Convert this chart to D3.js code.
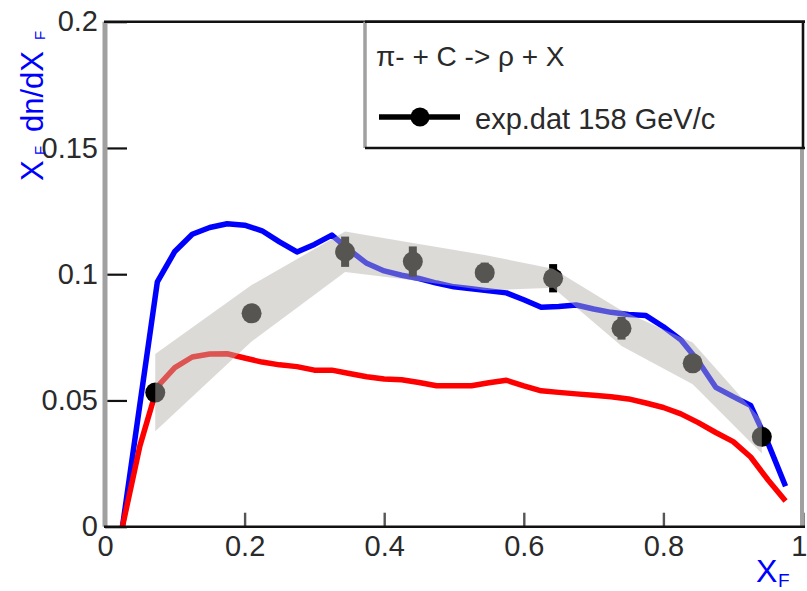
<!DOCTYPE html>
<html>
<head>
<meta charset="utf-8">
<script src="https://cdn.jsdelivr.net/npm/d3@7"></script>
<style>
  html, body { margin: 0; padding: 0; background: #fff; }
  svg { display: block; font-family: "Liberation Sans", Arial, Helvetica, sans-serif; }
</style>
</head>
<body>
<svg id="chart" width="807" height="591"></svg>
<script>
// Model curves, sampled on a common x_F grid
const xBins = [0.025, 0.05, 0.075, 0.1, 0.125, 0.15, 0.175, 0.2, 0.225, 0.25,
               0.275, 0.3, 0.325, 0.35, 0.375, 0.4, 0.425, 0.45, 0.475, 0.5,
               0.525, 0.55, 0.575, 0.6, 0.625, 0.65, 0.675, 0.7, 0.725, 0.75,
               0.775, 0.8, 0.825, 0.85, 0.875, 0.9, 0.925, 0.95, 0.975];
const blueModel = [0, 0.0485, 0.097, 0.109, 0.1158, 0.1185, 0.1200, 0.1194, 0.1172, 0.1128,
                   0.1088, 0.1118, 0.1155, 0.1096, 0.1043, 0.1013, 0.0996, 0.0983, 0.0965, 0.0950,
                   0.0942, 0.0934, 0.0926, 0.0899, 0.0869, 0.0872, 0.0878, 0.0862, 0.0849, 0.0840,
                   0.0836, 0.0792, 0.0740, 0.0655, 0.0552, 0.0515, 0.0480, 0.0330, 0.0160];
const redModel = [0, 0.032, 0.0555, 0.063, 0.0672, 0.0684, 0.0685, 0.0668, 0.0652, 0.0641,
                  0.0634, 0.0620, 0.0620, 0.0607, 0.0594, 0.0585, 0.0582, 0.0571, 0.0558, 0.0558,
                  0.0558, 0.0570, 0.0580, 0.0558, 0.0538, 0.0532, 0.0526, 0.0521, 0.0515, 0.0506,
                  0.0490, 0.0472, 0.0447, 0.0412, 0.0373, 0.0337, 0.0276, 0.0185, 0.0102];

// Measured points (exp.dat, 158 GeV/c)
const expX    = [0.072, 0.21, 0.344, 0.441, 0.544, 0.642, 0.74, 0.842, 0.941];
const expY    = [0.0531, 0.0845, 0.1089, 0.1050, 0.1006, 0.0984, 0.0786, 0.0647, 0.0356];
const expStat = [0.003, 0.003, 0.006, 0.006, 0.004, 0.0056, 0.0045, 0.003, 0.003];
const expSys  = [0.0153, 0.0112, 0.008, 0.0074, 0.007, 0.0038, 0.007, 0.0083, 0.0066];

// Axis ticks
const xTicks = [0, 0.2, 0.4, 0.6, 0.8, 1];
const xTickLabels = ["0", "0.2", "0.4", "0.6", "0.8", "1"];
const yTicks = [0, 0.05, 0.1, 0.15, 0.2];
const yTickLabels = ["0", "0.05", "0.1", "0.15", "0.2"];

const legendTitle = "\u03C0- + C -> \u03C1 + X";
const legendEntry = "exp.dat 158 GeV/c";

const svg = d3.select("#chart");
const padL = 105, padR = 803, padT = 21.7, padB = 526.7;

const x = d3.scaleLinear().domain([0, 1]).range([padL, padR]);
const y = d3.scaleLinear().domain([0, 0.2]).range([padB, padT]);

const tickFont = 29;

// Axes
const yAxis = d3.axisLeft(y).tickValues(yTicks).tickSize(-22).tickPadding(7)
  .tickFormat((d, i) => yTickLabels[i]);
const gy = svg.append("g").attr("transform", `translate(${padL},0)`).call(yAxis);
gy.select(".domain").remove();
gy.selectAll(".tick line").attr("stroke", "#111").attr("stroke-width", 2.2);
gy.selectAll(".tick text").attr("font-size", tickFont).attr("fill", "#2a2a2a")
  .attr("font-family", "'Liberation Sans', Arial, sans-serif");

const xAxis = d3.axisBottom(x).tickValues(xTicks).tickSize(-14).tickPadding(9)
  .tickFormat((d, i) => xTickLabels[i]);
const gx = svg.append("g").attr("transform", `translate(0,${padB})`).call(xAxis);
gx.select(".domain").remove();
gx.selectAll(".tick line").attr("stroke", "#555").attr("stroke-width", 2.4);
gx.selectAll(".tick text").attr("font-size", tickFont).attr("fill", "#2a2a2a")
  .attr("font-family", "'Liberation Sans', Arial, sans-serif");
// the last label sits against the right edge of the canvas
gx.selectAll(".tick text").filter(d => d === 1)
  .attr("text-anchor", "end").attr("x", 4);

// Model curves
const line = d3.line().x(d => x(d[0])).y(d => y(d[1]));
svg.append("path")
  .attr("d", line(xBins.map((v, i) => [v, blueModel[i]])))
  .attr("fill", "none").attr("stroke", "#0000ff").attr("stroke-width", 5.5)
  .attr("stroke-linejoin", "round");
svg.append("path")
  .attr("d", line(xBins.map((v, i) => [v, redModel[i]])))
  .attr("fill", "none").attr("stroke", "#ff0000").attr("stroke-width", 5.5)
  .attr("stroke-linejoin", "round");

// Data points with statistical error bars
const pts = expX.map((v, i) => ({ x: v, y: expY[i], s: expStat[i], sys: expSys[i] }));
svg.append("g").selectAll("line").data(pts).join("line")
  .attr("x1", d => x(d.x)).attr("x2", d => x(d.x))
  .attr("y1", d => y(d.y - d.s)).attr("y2", d => y(d.y + d.s))
  .attr("stroke", "#000").attr("stroke-width", 8);
svg.append("g").selectAll("circle").data(pts).join("circle")
  .attr("cx", d => x(d.x)).attr("cy", d => y(d.y)).attr("r", 10)
  .attr("fill", "#000");

// Systematic band, translucent, over everything in the pad
const band = d3.area().x(d => x(d.x)).y0(d => y(d.y - d.sys)).y1(d => y(d.y + d.sys));
svg.append("path").attr("d", band(pts))
  .attr("fill", "rgb(181,177,171)").attr("fill-opacity", 0.48);

// Frame
svg.append("line").attr("x1", padL).attr("x2", padL).attr("y1", padT).attr("y2", padB)
  .attr("stroke", "#a0a0a0").attr("stroke-width", 5);
svg.append("line").attr("x1", padR - 1).attr("x2", padR - 1).attr("y1", padT).attr("y2", padB)
  .attr("stroke", "#a0a0a0").attr("stroke-width", 4);
svg.append("line").attr("x1", padL - 1).attr("x2", padR + 2).attr("y1", padT).attr("y2", padT)
  .attr("stroke", "#111").attr("stroke-width", 2.6);
svg.append("line").attr("x1", padL - 1).attr("x2", padR + 2).attr("y1", padB).attr("y2", padB)
  .attr("stroke", "#111").attr("stroke-width", 2.6);

// Legend box
const lg = svg.append("g");
const lx0 = 365, lx1 = 803, ly0 = padT, ly1 = 148;
lg.append("rect").attr("x", lx0).attr("y", ly0).attr("width", lx1 - lx0).attr("height", ly1 - ly0)
  .attr("fill", "#fff");
lg.append("line").attr("x1", lx0).attr("x2", lx0).attr("y1", ly0).attr("y2", ly1)
  .attr("stroke", "#a0a0a0").attr("stroke-width", 3.5);
lg.append("line").attr("x1", lx1).attr("x2", lx1).attr("y1", ly0).attr("y2", ly1)
  .attr("stroke", "#111").attr("stroke-width", 2.6);
lg.append("line").attr("x1", lx0).attr("x2", lx1 + 2).attr("y1", ly1).attr("y2", ly1)
  .attr("stroke", "#111").attr("stroke-width", 2.6);
lg.append("line").attr("x1", lx0).attr("x2", lx1 + 2).attr("y1", ly0).attr("y2", ly0)
  .attr("stroke", "#111").attr("stroke-width", 2.6);
lg.append("text").attr("x", 376).attr("y", 66).attr("font-size", 28).attr("fill", "#2a2a2a")
  .text(legendTitle);
lg.append("line").attr("x1", 379).attr("x2", 460).attr("y1", 117).attr("y2", 117)
  .attr("stroke", "#000").attr("stroke-width", 5.5);
lg.append("circle").attr("cx", 420).attr("cy", 117).attr("r", 9.5).attr("fill", "#000");
lg.append("text").attr("x", 475).attr("y", 129).attr("font-size", 29).attr("fill", "#2a2a2a")
  .text(legendEntry);

// Axis titles
const xt = svg.append("text").attr("fill", "#0000ff");
xt.append("tspan").attr("x", 756).attr("y", 582).attr("font-size", 32).text("X");
xt.append("tspan").attr("x", 778).attr("y", 587).attr("font-size", 19).text("F");

const yt = svg.append("text").attr("fill", "#0000ff")
  .attr("transform", "translate(43,181) rotate(-90)");
yt.append("tspan").attr("x", 0).attr("y", 0).attr("font-size", 31).text("X");
yt.append("tspan").attr("x", 26).attr("y", 2).attr("font-size", 15).text("F");
yt.append("tspan").attr("x", 49).attr("y", 0).attr("font-size", 31).text("dn/dX");
yt.append("tspan").attr("x", 141).attr("y", 2).attr("font-size", 15).text("F");
</script>
</body>
</html>
